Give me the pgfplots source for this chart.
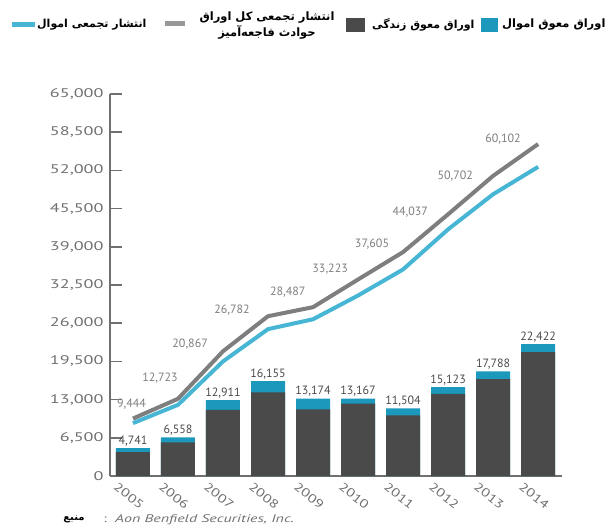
\documentclass[border=0pt]{standalone}
\usepackage{pgfplots}
\pgfplotsset{compat=1.18}
\usepackage{fontspec}
\setmainfont{PT Sans}
\newfontfamily\widesans[FakeStretch=1.45]{PT Sans}
\newfontfamily\tickfont[FakeStretch=1.3]{PT Sans}
\newfontfamily\fa[Script=Arabic]{DejaVu Sans}
\TeXXeTstate=1
\definecolor{darkbar}{HTML}{4A4A4A}
\definecolor{tealbar}{HTML}{1B98BC}
\definecolor{blueline}{HTML}{47B6D5}
\definecolor{grayline}{HTML}{7E7E7E}
\definecolor{ticktext}{HTML}{707070}
\definecolor{axisgray}{HTML}{707070}
\begin{document}
\begin{tikzpicture}[x=1pt,y=1pt]
\useasboundingbox (-110,-49) rectangle (506,476);
\begin{axis}[at={(0,0)},anchor=south west,scale only axis,
  width=452pt,height=382pt,
  xmin=-0.51,xmax=9.53,ymin=0,ymax=65000,
  axis lines=left,axis line style={-,draw=axisgray,line width=1.6pt},
  ytick={0,6500,13000,19500,26000,32500,39000,45500,52000,58500,65000},
  scaled y ticks=false,
  /pgf/number format/fixed,
  /pgf/number format/1000 sep={,},
  /pgf/number format/assume math mode=true,
  yticklabel style={font=\widesans\fontsize{12.5}{12.5}\selectfont,text=ticktext,xshift=-3pt},
  tick align=inside,major tick length=12pt,
  y tick style={draw=axisgray,line width=1.6pt},
  xtick={0,1,2,3,4,5,6,7,8,9},
  xticklabels={2005,2006,2007,2008,2009,2010,2011,2012,2013,2014},
  x tick style={draw=none},
  xticklabel style={rotate=-38,anchor=center,inner sep=0pt,xshift=9pt,yshift=-18pt,font=\tickfont\fontsize{12}{12}\selectfont,text=ticktext},
  clip=false,
]
% total outstanding (teal = property part on top)
\addplot[ybar,bar width=34pt,bar shift=0pt,fill=tealbar,draw=none] coordinates {
(0,4741) (1,6558) (2,12911) (3,16155) (4,13174) (5,13167) (6,11504) (7,15123) (8,17788) (9,22422)};
% life part
\addplot[ybar,bar width=34pt,bar shift=0pt,fill=darkbar,draw=none] coordinates {
(0,4061) (1,5708) (2,11261) (3,14225) (4,11354) (5,12317) (6,10314) (7,13983) (8,16488) (9,21057)};
% bar labels
\addplot[draw=none,mark=none,nodes near coords={\pgfplotspointmeta},point meta=explicit symbolic,
  nodes near coords style={anchor=south,inner sep=2pt,font=\fontsize{12}{12}\selectfont,text=darkbar}] coordinates {
(0,4741) [{4,741}] (1,6558) [{6,558}] (2,12911) [{12,911}] (3,16155) [{16,155}] (4,13174) [{13,174}]
(5,13167) [{13,167}] (6,11504) [{11,504}] (7,15123) [{15,123}] (8,17788) [{17,788}] (9,22422) [{22,422}]};
% cumulative property issuance
\addplot[draw=blueline,line width=4pt,line join=round,mark=none] coordinates {
(0,8990) (1,12110) (2,19500) (3,24990) (4,26670) (5,30710) (6,35150) (7,41970) (8,47940) (9,52600)};
% cumulative total issuance
\addplot[draw=grayline,line width=4pt,line join=round,mark=none] coordinates {
(0,9770) (1,13140) (2,21220) (3,27190) (4,28730) (5,33440) (6,38100) (7,44530) (8,51070) (9,56480)};
% line labels
\addplot[draw=none,mark=none,nodes near coords={\pgfplotspointmeta},point meta=explicit symbolic,
  nodes near coords style={anchor=center,inner sep=0pt,font=\fontsize{12}{12}\selectfont,text=grayline}] coordinates {
(-0.03,12283) [{9,444}] (0.6,16720) [{12,723}] (1.27,22520) [{20,867}] (2.2,28150) [{26,782}]
(3.44,31220) [{28,487}] (4.38,35140) [{33,223}] (5.31,39410) [{37,605}] (6.16,44870) [{44,037}]
(7.16,51010) [{50,702}] (8.22,57320) [{60,102}]};
\end{axis}
% legend
\draw[blueline,line width=5pt] (-98,451) -- (-75,451);
\node[anchor=west,inner sep=0pt,font=\fa\bfseries\fontsize{11}{11}\selectfont] at (-73,451) {\beginR انتشار تجمعی اموال\endR};
\draw[grayline!80,line width=5pt] (55,452) -- (75,452);
\node[anchor=center,inner sep=0pt,align=center,font=\fa\bfseries\fontsize{11.5}{16}\selectfont] at (157,450) {\beginR انتشار تجمعی کل اوراق\endR\\\beginR حوادث فاجعه‌آمیز\endR};
\fill[darkbar] (236,444) rectangle (255,458);
\node[anchor=west,inner sep=0pt,font=\fa\bfseries\fontsize{11}{11}\selectfont] at (262,451) {\beginR اوراق معوق زندگی\endR};
\fill[tealbar] (371,444) rectangle (388,458);
\node[anchor=west,inner sep=0pt,font=\fa\bfseries\fontsize{11.5}{11.5}\selectfont] at (392,451) {\beginR اوراق معوق اموال\endR};
% source
\node[anchor=center,inner sep=0pt,font=\fa\bfseries\fontsize{10}{10}\selectfont] at (-36,-43) {\beginR منبع\endR};
\node[anchor=center,inner sep=0pt,text=ticktext,font=\widesans\fontsize{11}{11}\selectfont] at (-5,-44) {:};
\node[anchor=west,inner sep=0pt,text=ticktext,font=\widesans\itshape\fontsize{11}{11}\selectfont] at (5,-44) {Aon Benfield Securities, Inc.};
\end{tikzpicture}
\end{document}
